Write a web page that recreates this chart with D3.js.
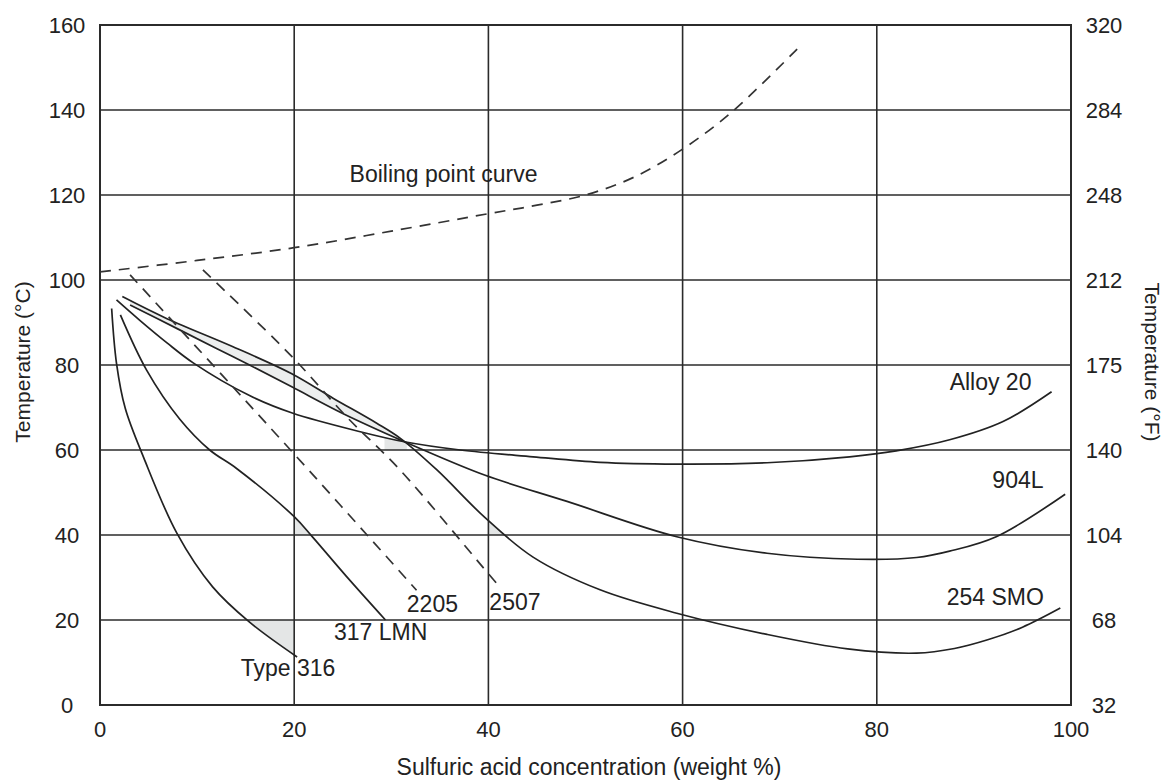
<!DOCTYPE html>
<html><head><meta charset="utf-8">
<script src="https://cdn.jsdelivr.net/npm/d3@7"></script>
<style>
body{margin:0;background:#fff;}
svg{display:block;background:#fff;}
text{font-family:"Liberation Sans",Arial,Helvetica,sans-serif;fill:#222;}
</style>
</head><body>
<svg id="chart" width="1167" height="783"></svg>
<script>
// ---- tick labels ----
const xTicks = [0, 20, 40, 60, 80, 100];
const yTicksC = [0, 20, 40, 60, 80, 100, 120, 140, 160];
const yTicksF = ["32", "68", "104", "140", "175", "212", "248", "284", "320"];

// ---- solid curves (x = wt %, y = °C) ----
const type316X = [1.2, 1.7, 2.6, 4.5, 7.9, 11.6, 15.4, 20.3];
const type316Y = [93.3, 80.4, 69.8, 58.2, 40.5, 27.8, 19.5, 11.3];

const lmn317X = [2.1, 4.8, 8.2, 11.3, 14.1, 20.0, 21.9, 25.4, 29.4];
const lmn317Y = [91.8, 78.8, 67.3, 60.0, 55.6, 44.3, 39.5, 30.2, 20.0];

const smo254X = [2.3, 6.9, 13.7, 19.7, 24.0, 28.5, 30.9, 34.7, 39.6, 44.6, 51.5, 59.4, 68.7, 77.0, 84.1, 88.0, 91.5, 95.0, 98.9];
const smo254Y = [96.1, 90.9, 84.3, 78.0, 72.2, 66.3, 62.8, 55.3, 44.2, 34.8, 27.1, 21.6, 16.6, 13.2, 12.2, 13.3, 15.4, 18.3, 22.8];

const l904X = [3.1, 8.0, 12.0, 15.4, 19.8, 25.0, 30.9, 32.6, 39.6, 48.1, 59.4, 68.7, 78.0, 84.1, 87.5, 92.3, 99.4];
const l904Y = [94.1, 88.5, 83.9, 80.0, 74.8, 68.6, 62.4, 60.7, 54.1, 47.9, 39.6, 35.7, 34.3, 34.7, 36.2, 39.6, 49.6];

const alloy20X = [1.7, 4.1, 6.9, 9.6, 15.4, 19.8, 26.8, 31.2, 37.1, 44.6, 51.5, 59.4, 68.7, 77.2, 82.0, 87.5, 93.0, 98.0];
const alloy20Y = [95.3, 90.5, 85.2, 80.5, 72.8, 68.7, 64.3, 62.0, 60.0, 58.4, 57.1, 56.7, 57.0, 58.4, 59.8, 62.4, 66.7, 73.7];

// ---- dashed curves ----
const boilX = [0, 10, 20, 30, 40, 45, 50, 55, 60, 65, 72];
const boilY = [101.9, 104.6, 107.6, 111.5, 115.6, 117.6, 120.0, 124.2, 130.8, 139.4, 154.8];

const d2205X = [3.1, 19.9, 32.6];
const d2205Y = [101.2, 59.3, 27.0];

const d2507X = [10.6, 19.8, 25.4, 30.9, 39.4, 41.0];
const d2507Y = [102.4, 81.9, 67.8, 55.3, 32.5, 28.2];

// ---- curve labels (anchor in data units) ----
const labelText = ["Boiling point curve", "Alloy 20", "904L", "254 SMO", "2205", "2507", "317 LMN", "Type 316"];
const labelX = [25.7, 87.5, 91.9, 87.2, 31.6, 40.1, 24.1, 14.5];
const labelY = [123.1, 74.1, 51.1, 23.5, 21.9, 22.4, 15.3, 6.8];

// ---------------------------------------------------------
const svg = d3.select("#chart");
const x = d3.scaleLinear().domain([0, 100]).range([100, 1071]);
const y = d3.scaleLinear().domain([0, 160]).range([705, 25]);
const pts = (xs, ys) => d3.zip(xs, ys);

const solid = [pts(type316X, type316Y), pts(lmn317X, lmn317Y), pts(smo254X, smo254Y), pts(l904X, l904Y), pts(alloy20X, alloy20Y)];
const dashed = [pts(boilX, boilY), pts(d2205X, d2205Y), pts(d2507X, d2507Y)];

const curve = d3.curveCatmullRom.alpha(0.5);
const line = d3.line().x(d => x(d[0])).y(d => y(d[1])).curve(curve);
const defs = svg.append("defs");
let clipId = 0;
function rectClip(x0, x1, y0, y1) {
  const id = "clip" + (clipId++);
  defs.append("clipPath").attr("id", id).append("rect")
    .attr("x", x(x0)).attr("y", y(y1))
    .attr("width", x(x1) - x(x0)).attr("height", y(y0) - y(y1));
  return "url(#" + id + ")";
}
const shadeFill = "#e4e6e6";

// shading between a curve and a grid level, clipped to a cell corner
const gShade = svg.append("g");
function cornerShade(data, level, x0, x1, y0, y1) {
  const a = d3.area().x(d => x(d[0])).y0(d => y(d[1])).y1(y(level)).curve(curve);
  gShade.append("path").attr("d", a(data)).attr("fill", shadeFill)
    .attr("clip-path", rectClip(x0, x1, y0, y1));
}
cornerShade(solid[0], 20, 0, 20, 0, 20);      // Type 316
cornerShade(solid[1], 40, 20, 40, 40, 60);    // 317 LMN
cornerShade(solid[2], 80, 0, 20, 60, 80);     // 254 SMO at (20,80)
cornerShade(solid[2], 40, 40, 60, 40, 60);    // 254 SMO at (40,40)
cornerShade(solid[4], 60, 29.3, 31.6, 60, 63);  // near crossing

// lens between 254 SMO (above) and 904L (below)
const lensId = "lensclip";
defs.append("clipPath").attr("id", lensId).append("path")
  .attr("d", d3.area().x(d => x(d[0])).y0(d => y(d[1])).y1(y(160)).curve(curve)(solid[3]));
gShade.append("path")
  .attr("d", d3.area().x(d => x(d[0])).y0(y(0)).y1(d => y(d[1])).curve(curve)(solid[2]))
  .attr("fill", "#eceeee").attr("clip-path", "url(#" + lensId + ")");

// grid
const grid = svg.append("g").attr("stroke", "#2b2b2b").attr("stroke-width", 1.6);
grid.selectAll("line.v").data(xTicks).join("line")
  .attr("x1", d => x(d)).attr("x2", d => x(d)).attr("y1", y(0)).attr("y2", y(160));
grid.selectAll("line.h").data(yTicksC).join("line")
  .attr("x1", x(0)).attr("x2", x(100)).attr("y1", d => y(d)).attr("y2", d => y(d));
svg.append("rect").attr("x", x(0)).attr("y", y(160))
  .attr("width", x(100) - x(0)).attr("height", y(0) - y(160))
  .attr("fill", "none").attr("stroke", "#2b2b2b").attr("stroke-width", 2);

// curves
svg.append("g").selectAll("path").data(solid).join("path")
  .attr("d", line).attr("fill", "none").attr("stroke", "#222").attr("stroke-width", 1.7);
svg.append("g").selectAll("path").data(dashed).join("path")
  .attr("d", line).attr("fill", "none").attr("stroke", "#333").attr("stroke-width", 1.7)
  .attr("stroke-dasharray", "11,8");

// tick labels
svg.append("g").selectAll("text").data(xTicks).join("text")
  .attr("x", d => x(d)).attr("y", 737).attr("text-anchor", "middle")
  .style("font-size", "22px").text(d => d);
svg.append("g").selectAll("text").data(yTicksC).join("text")
  .attr("x", 67).attr("y", d => y(d)).attr("dy", "0.36em").attr("text-anchor", "middle")
  .style("font-size", "22px").text(d => d);
svg.append("g").selectAll("text").data(yTicksF).join("text")
  .attr("x", 1104).attr("y", (d, i) => y(yTicksC[i])).attr("dy", "0.36em").attr("text-anchor", "middle")
  .style("font-size", "22px").text(d => d);

// axis titles
svg.append("text").attr("x", 589).attr("y", 775).attr("text-anchor", "middle")
  .style("font-size", "23px").text("Sulfuric acid concentration (weight %)");
svg.append("text").attr("transform", "translate(30,362) rotate(-90)").attr("text-anchor", "middle")
  .style("font-size", "21px").text("Temperature (°C)");
svg.append("text").attr("transform", "translate(1145,362) rotate(90)").attr("text-anchor", "middle")
  .style("font-size", "21px").text("Temperature (°F)");

// curve labels
svg.append("g").selectAll("text").data(labelText).join("text")
  .attr("x", (d, i) => x(labelX[i])).attr("y", (d, i) => y(labelY[i]))
  .style("font-size", "23px").text(d => d);
</script>
</body></html>
